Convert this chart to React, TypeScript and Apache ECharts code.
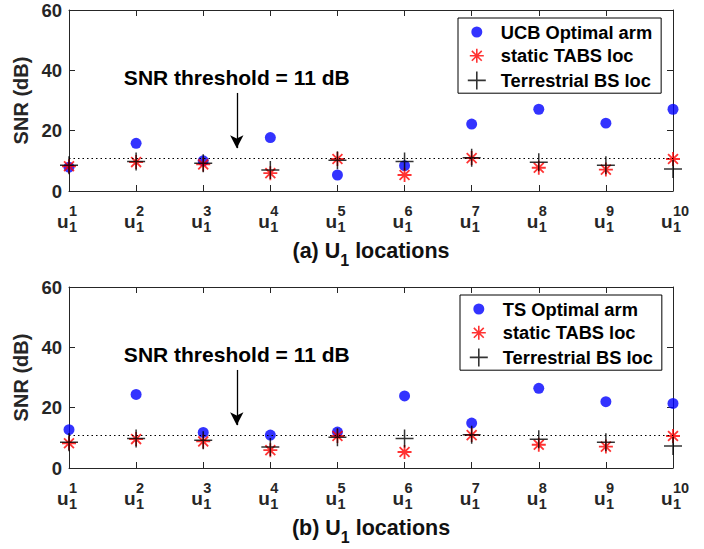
import React, { useEffect, useRef } from 'react';
import * as echarts from 'echarts';

const FONT = '"Liberation Sans", Arial, Helvetica, sans-serif';
const AXIS_COLOR = '#262626';

// ---- data ----
const locations = ['1', '2', '3', '4', '5', '6', '7', '8', '9', '10'];
const ucbOptimal = [7.9, 15.8, 10.0, 17.7, 5.3, 8.4, 22.2, 27.1, 22.5, 27.1];
const tsOptimal = [12.7, 24.4, 11.8, 10.9, 11.9, 23.9, 14.9, 26.4, 22.0, 21.4];
const staticTabs = [8.2, 9.6, 8.8, 5.9, 10.6, 5.3, 10.9, 7.7, 7.1, 10.6];
const terrestrialBs = [8.5, 9.8, 9.2, 7.0, 10.2, 9.8, 11.0, 9.5, 8.5, 7.3];
const threshold = 11;
const panelTags = ['(a)', '(b)'];
const optimalNames = ['UCB Optimal arm', 'TS Optimal arm'];
const staticName = 'static TABS loc';
const terrestrialName = 'Terrestrial BS loc';
const yMin = 0;
const yMax = 60;
const yInterval = 20;

// annotation arrow (data coordinates)
const arrowX = 3.5;
const arrowFrom = 32.5;
const arrowTo = 14.2;

// ---- symbols (18x18 box) ----
const CIRCLE = 'path://M0,0 M18,18 M3.5,9 A5.5,5.5 0 1 1 14.5,9 A5.5,5.5 0 1 1 3.5,9 Z';
const STAR =
  'path://M0,0 M18,18 M9,2 L9,16 M2,9 L16,9 M4.05,4.05 L13.95,13.95 M13.95,4.05 L4.05,13.95';
const PLUS = 'path://M0,0 M18,18 M0,9 L18,9 M9,0 L9,18';

const toPoints = (arr: number[]) => arr.map((v, i) => [i + 1, v]);

const grids = [
  { left: 69, top: 10, width: 604, height: 181 },
  { left: 69, top: 287, width: 604, height: 181 },
];
const legendPos = [
  { left: 458, top: 18 },
  { left: 460, top: 295 },
];

function buildOption() {
  const xAxis: any[] = [];
  const yAxis: any[] = [];
  const series: any[] = [];
  const legend: any[] = [];
  const optimalSets = [ucbOptimal, tsOptimal];

  grids.forEach((_, g) => {
    xAxis.push({
      type: 'value',
      gridIndex: g,
      min: 1,
      max: 10,
      interval: 1,
      position: 'bottom',
      axisLine: { show: true, onZero: false, lineStyle: { color: AXIS_COLOR, width: 1 } },
      axisTick: { show: true, inside: true, length: 6, lineStyle: { color: AXIS_COLOR } },
      splitLine: { show: false },
      axisLabel: {
        margin: 16,
        color: AXIS_COLOR,
        fontFamily: FONT,
        formatter: (v: number) => `{sup|${locations[Math.round(v) - 1]}}\n{u|u}{sub|1}`,
        rich: {
          sup: {
            width: 12,
            lineHeight: 8,
            fontSize: 14.5,
            fontWeight: 'bold',
            align: 'left',
            padding: [0, 0, 0, 12],
            fontFamily: FONT,
            color: AXIS_COLOR,
          },
          u: { width: 12, lineHeight: 12, fontSize: 19, fontWeight: 'bold', align: 'left', fontFamily: FONT, color: AXIS_COLOR },
          sub: {
            width: 12,
            lineHeight: 12,
            fontSize: 14.5,
            fontWeight: 'bold',
            align: 'left',
            padding: [12, 0, 0, 0],
            fontFamily: FONT,
            color: AXIS_COLOR,
          },
        },
      },
      name: `${panelTags[g]} U{sub|1} locations`,
      nameLocation: 'middle',
      nameGap: 43,
      nameTextStyle: {
        fontSize: 21.5,
        fontWeight: 'bold',
        color: '#111',
        fontFamily: FONT,
        rich: {
          sub: { fontSize: 16, fontWeight: 'bold', padding: [18, 0, 0, 0], color: '#111', fontFamily: FONT },
        },
      },
    });
    xAxis.push({
      type: 'value',
      gridIndex: g,
      min: 1,
      max: 10,
      interval: 1,
      position: 'top',
      axisLine: { show: true, onZero: false, lineStyle: { color: AXIS_COLOR, width: 1 } },
      axisTick: { show: true, inside: true, length: 6, lineStyle: { color: AXIS_COLOR } },
      axisLabel: { show: false },
      splitLine: { show: false },
    });
    yAxis.push({
      type: 'value',
      gridIndex: g,
      min: yMin,
      max: yMax,
      interval: yInterval,
      position: 'left',
      axisLine: { show: true, onZero: false, lineStyle: { color: AXIS_COLOR, width: 1 } },
      axisTick: { show: true, inside: true, length: 6, lineStyle: { color: AXIS_COLOR } },
      splitLine: { show: false },
      axisLabel: { margin: 7, fontSize: 18.5, fontWeight: 'bold', color: AXIS_COLOR, fontFamily: FONT },
      name: 'SNR (dB)',
      nameLocation: 'middle',
      nameGap: 34,
      nameTextStyle: { fontSize: 20, fontWeight: 'bold', color: AXIS_COLOR, fontFamily: FONT },
    });
    yAxis.push({
      type: 'value',
      gridIndex: g,
      min: yMin,
      max: yMax,
      interval: yInterval,
      position: 'right',
      axisLine: { show: true, onZero: false, lineStyle: { color: AXIS_COLOR, width: 1 } },
      axisTick: { show: true, inside: true, length: 6, lineStyle: { color: AXIS_COLOR } },
      axisLabel: { show: false },
      splitLine: { show: false },
    });

    const xi = g * 2;
    const yi = g * 2;
    series.push({
      type: 'scatter',
      name: optimalNames[g],
      xAxisIndex: xi,
      yAxisIndex: yi,
      data: toPoints(optimalSets[g]),
      symbol: CIRCLE,
      symbolSize: 18,
      itemStyle: { color: '#0000ff', borderWidth: 0 },
      emphasis: { disabled: true },
      markLine: {
        silent: true,
        animation: false,
        symbol: ['none', 'none'],
        label: { show: false },
        data: [
          {
            yAxis: threshold,
            symbol: 'none',
            lineStyle: { type: [1.5, 3], color: '#000', width: 1 },
            label: { show: false },
          },
          [
            {
              coord: [arrowX, arrowFrom],
              symbol: 'none',
              lineStyle: { type: 'solid', color: '#000', width: 1.3 },
              label: {
                show: true,
                position: 'start',
                distance: 5,
                formatter: `SNR threshold = ${threshold} dB`,
                fontSize: 21,
                fontWeight: 'bold',
                color: '#000',
                fontFamily: FONT,
              },
            },
            { coord: [arrowX, arrowTo], symbol: 'arrow', symbolSize: [10, 13] },
          ],
        ],
      },
    });
    series.push({
      type: 'scatter',
      name: staticName,
      xAxisIndex: xi,
      yAxisIndex: yi,
      data: toPoints(staticTabs),
      symbol: STAR,
      symbolSize: 18,
      itemStyle: { color: 'transparent', borderColor: '#ff0000', borderWidth: 1.8 },
      emphasis: { disabled: true },
    });
    series.push({
      type: 'scatter',
      name: terrestrialName,
      xAxisIndex: xi,
      yAxisIndex: yi,
      data: toPoints(terrestrialBs),
      symbol: PLUS,
      symbolSize: 18,
      itemStyle: { color: 'transparent', borderColor: '#000000', borderWidth: 1.5 },
      emphasis: { disabled: true },
    });

    legend.push({
      data: [optimalNames[g], staticName, terrestrialName],
      orient: 'vertical',
      left: legendPos[g].left,
      top: legendPos[g].top,
      padding: [5, 9, 3, 9],
      itemGap: 5,
      itemWidth: 38,
      itemHeight: 18,
      backgroundColor: '#fff',
      borderColor: '#000',
      borderWidth: 1,
      borderRadius: 0,
      selectedMode: false,
      itemStyle: { borderWidth: 1.6 },
      textStyle: { fontSize: 18.3, fontWeight: 'bold', color: '#000', fontFamily: FONT },
    });
  });

  return {
    animation: false,
    backgroundColor: '#fff',
    grid: grids,
    xAxis,
    yAxis,
    legend,
    series,
  };
}

export default function App() {
  const ref = useRef<HTMLDivElement>(null);
  useEffect(() => {
    if (!ref.current) return;
    const chart = echarts.init(ref.current, null, { renderer: 'svg' });
    chart.setOption(buildOption() as any);
    return () => chart.dispose();
  }, []);
  return (
    <div
      ref={ref}
      style={{ position: 'fixed', left: 0, top: 0, width: 704, height: 549, background: '#fff' }}
    />
  );
}
